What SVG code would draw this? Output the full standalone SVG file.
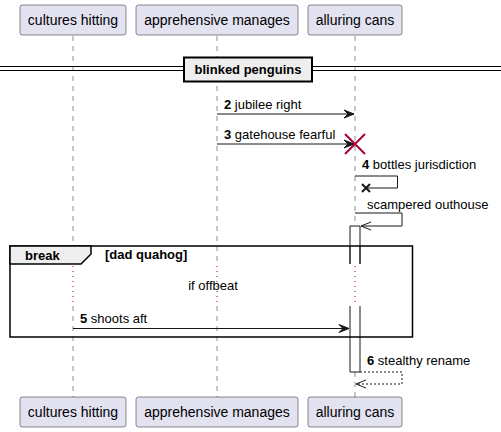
<svg xmlns="http://www.w3.org/2000/svg" width="501" height="432" viewBox="0 0 501 432">
<style>
.part{fill:#E2E2F0;stroke:#181818;stroke-width:0.5}
.ptxt{font-family:"Liberation Sans",Arial,sans-serif;font-size:14px;fill:#000;text-anchor:middle}
.life{stroke:#181818;stroke-width:0.5;stroke-dasharray:5,5;fill:none}
.dot{stroke:#A80036;stroke-width:1;stroke-dasharray:1,4;fill:none}
.msg{stroke:#181818;stroke-width:1;fill:none}
.dash{stroke:#181818;stroke-width:1;fill:none;stroke-dasharray:2,2}
.mtxt{font-family:"Liberation Sans",Arial,sans-serif;font-size:13px;fill:#000}
.b{font-weight:bold}
.head{fill:#181818;stroke:#181818;stroke-width:1}
.act{stroke:#181818;stroke-width:1;fill:none}
</style>
<rect width="501" height="432" fill="#FFFFFF"/>
<g id="lifelines">
<line class="life" x1="73" y1="36" x2="73" y2="264"/>
<line class="life" x1="73" y1="306" x2="73" y2="397"/>
<line class="life" x1="217" y1="36" x2="217" y2="264"/>
<line class="life" x1="217" y1="306" x2="217" y2="397"/>
<line class="life" x1="355" y1="36" x2="355" y2="226"/>
<line class="dot" x1="73" y1="266" x2="73" y2="306"/>
<line class="dot" x1="217" y1="266" x2="217" y2="306"/>
<line class="dot" x1="355" y1="266" x2="355" y2="306"/>
<line class="life" x1="355" y1="372" x2="355" y2="397"/>
</g>
<g id="activation">
<rect x="350" y="226" width="10" height="38" fill="#FFFFFF" stroke="none"/>
<rect x="350" y="306" width="10" height="66" fill="#FFFFFF" stroke="none"/>
<path class="act" d="M350,264 L350,226 L360,226 L360,264"/>
<path class="act" d="M350,306 L350,372 L360,372 L360,306"/>
</g>
<g id="divider">
<line x1="0" y1="66.5" x2="501" y2="66.5" stroke="#000" stroke-width="1"/>
<line x1="0" y1="70.5" x2="501" y2="70.5" stroke="#000" stroke-width="1"/>
<rect x="184" y="57.5" width="128" height="24" fill="#EEEEEE" stroke="#000" stroke-width="2"/>
<text class="mtxt b" x="248" y="74" text-anchor="middle" font-size="13">blinked penguins</text>
</g>
<g id="break-frame">
<rect x="10" y="246" width="402.5" height="91" fill="none" stroke="#000" stroke-width="1.5"/>
<path d="M10,246 L91,246 L91,254 L81,264 L10,264 Z" fill="#EEEEEE" stroke="#000" stroke-width="1.5"/>
<text class="mtxt b" x="25" y="260">break</text>
<text class="mtxt b" x="105" y="259" font-size="11">[dad quahog]</text>
<text class="mtxt" x="213" y="289.5" font-size="11" text-anchor="middle">if offbeat</text>
</g>
<g id="activation-edges">
<line class="act" x1="350" y1="246" x2="350" y2="264"/>
<line class="act" x1="360" y1="246" x2="360" y2="264"/>
</g>
<g id="connectors">
<line class="msg" x1="217" y1="114" x2="354" y2="114"/>
<polygon class="head" points="344,110 354,114 344,118 348,114"/>
<text class="mtxt" x="224" y="108.5"><tspan class="b">2</tspan> jubilee right</text>

<line class="msg" x1="217" y1="144" x2="354" y2="144"/>
<polygon class="head" points="344,140 354,144 344,148 348,144"/>
<text class="mtxt" x="224" y="138.5"><tspan class="b">3</tspan> gatehouse fearful</text>
<path d="M345,134 L365,154 M345,154 L365,134" stroke="#A80036" stroke-width="2" fill="none"/>

<polyline class="msg" points="355,176 397.5,176 397.5,188 366,188"/>
<path d="M362,184 L370,192 M362,192 L370,184" stroke="#181818" stroke-width="2" fill="none"/>
<text class="mtxt" x="362" y="169"><tspan class="b">4</tspan> bottles jurisdiction</text>

<polyline class="msg" points="355,213 402,213 402,226 361,226"/>
<path d="M371,222 L361,226 L371,230" class="msg"/>
<text class="mtxt" x="367" y="208.5">scampered outhouse</text>

<line class="msg" x1="73" y1="328.5" x2="349" y2="328.5"/>
<polygon class="head" points="339,324.5 349,328.5 339,332.5 343,328.5"/>
<text class="mtxt" x="80" y="322.5"><tspan class="b">5</tspan> shoots aft</text>

<polyline class="dash" points="360,372 402,372 402,384 356,384"/>
<path d="M366,380 L356,384 L366,388" class="msg"/>
<text class="mtxt" x="367" y="365"><tspan class="b">6</tspan> stealthy rename</text>
</g>
<g id="p-cultures-hitting">
<rect class="part" x="20" y="5" width="106" height="30" rx="2.5"/>
<text class="ptxt" x="73" y="25">cultures hitting</text>
<rect class="part" x="20" y="397" width="106" height="30" rx="2.5"/>
<text class="ptxt" x="73" y="417">cultures hitting</text>
</g>
<g id="p-apprehensive-manages">
<rect class="part" x="136" y="5" width="162" height="30" rx="2.5"/>
<text class="ptxt" x="217" y="25">apprehensive manages</text>
<rect class="part" x="136" y="397" width="162" height="30" rx="2.5"/>
<text class="ptxt" x="217" y="417">apprehensive manages</text>
</g>
<g id="p-alluring-cans">
<rect class="part" x="308" y="5" width="94" height="30" rx="2.5"/>
<text class="ptxt" x="355" y="25">alluring cans</text>
<rect class="part" x="308" y="397" width="94" height="30" rx="2.5"/>
<text class="ptxt" x="355" y="417">alluring cans</text>
</g>
</svg>
